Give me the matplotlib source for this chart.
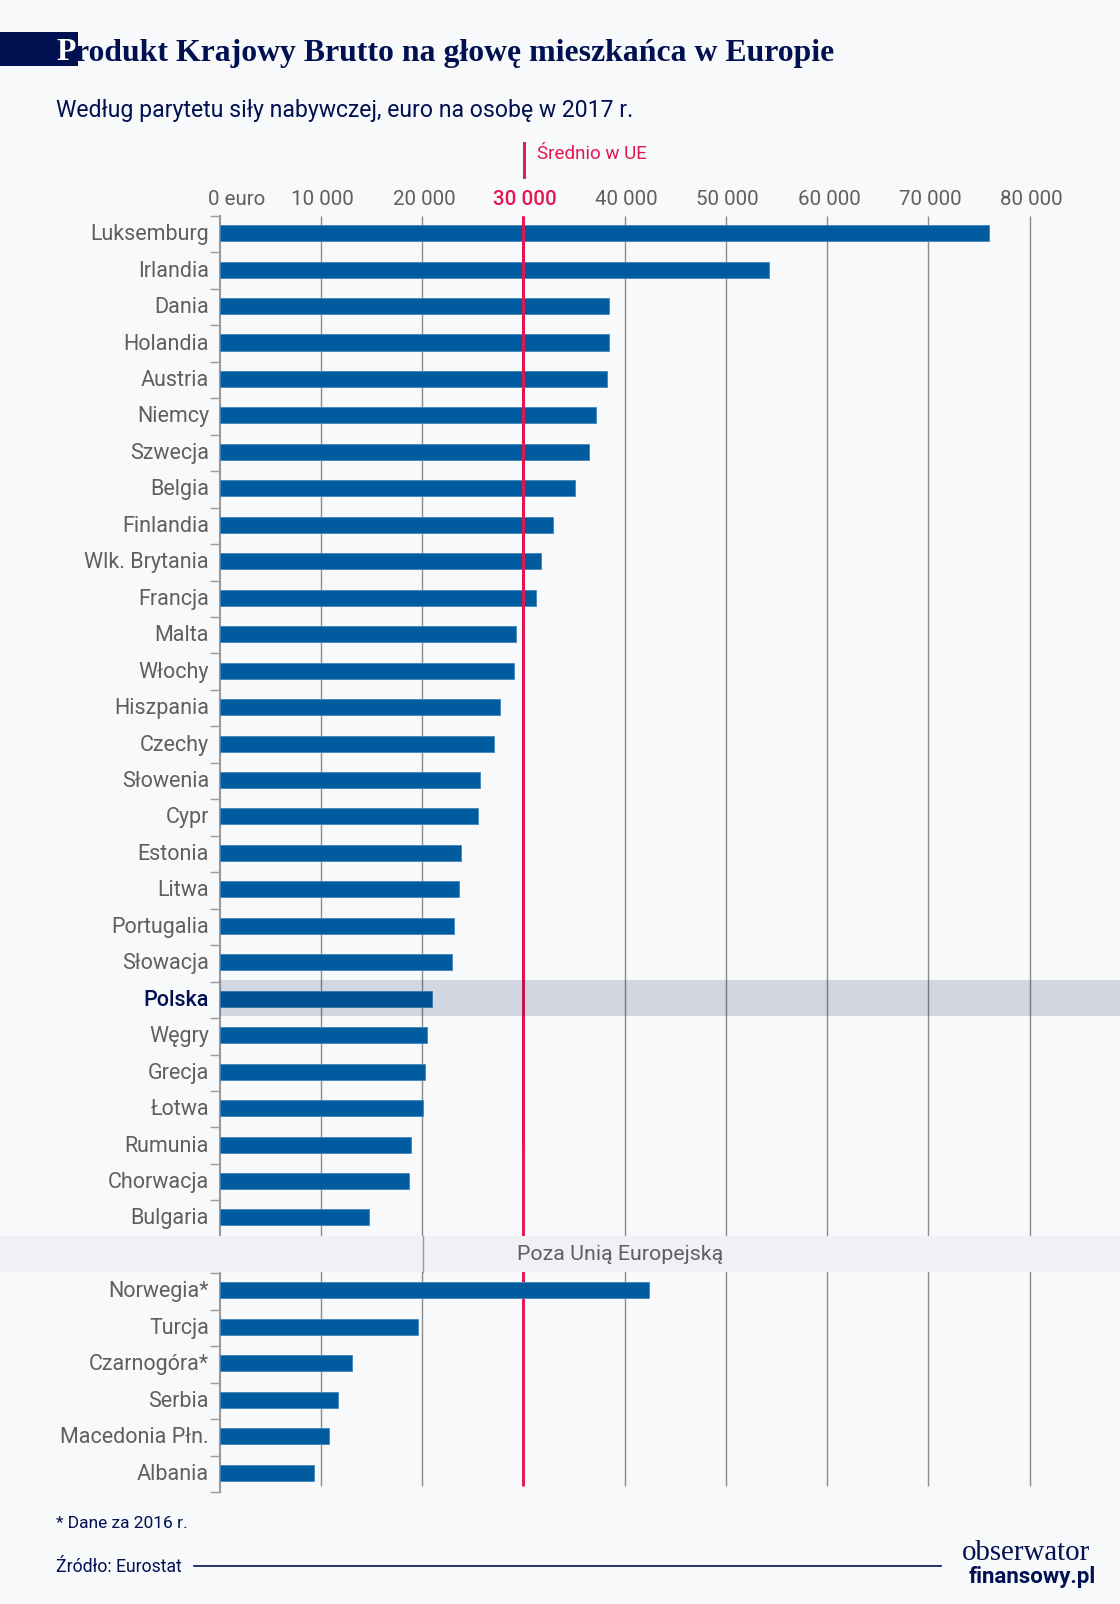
import matplotlib
matplotlib.use("Agg")
import matplotlib.pyplot as plt
from matplotlib.patches import Rectangle
from matplotlib.lines import Line2D
from matplotlib.transforms import ScaledTranslation

countries = ["Luksemburg", "Irlandia", "Dania", "Holandia", "Austria", "Niemcy", "Szwecja",
             "Belgia", "Finlandia", "Wlk. Brytania", "Francja", "Malta", "Włochy", "Hiszpania",
             "Czechy", "Słowenia", "Cypr", "Estonia", "Litwa", "Portugalia", "Słowacja",
             "Polska", "Węgry", "Grecja", "Łotwa", "Rumunia", "Chorwacja", "Bulgaria"]
values = [76000, 54300, 38500, 38500, 38300, 37200, 36500,
          35100, 32900, 31800, 31300, 29300, 29100, 27700,
          27100, 25700, 25500, 23900, 23700, 23200, 23000,
          21000, 20500, 20300, 20100, 18900, 18700, 14800]
other_countries = ["Norwegia*", "Turcja", "Czarnogóra*", "Serbia", "Macedonia Płn.", "Albania"]
other_values = [42400, 19600, 13100, 11700, 10800, 9300]
x_ticks = [0, 10000, 20000, 30000, 40000, 50000, 60000, 70000, 80000]
x_labels = ["0 euro", "10 000", "20 000", "30 000", "40 000", "50 000", "60 000", "70 000", "80 000"]
eu_avg = 30000

W, H = 1120, 1604
BG = "#f7f9fb"
NAVY = "#001050"
BLUE = "#005c9f"
RED = "#e4164f"
GREY = "#5f5f5f"
NARROW = ["Roboto", "DejaVu Sans"]
SERIF = ["Liberation Serif", "DejaVu Serif"]


def fx(px):
    return px / W


def fy(px):
    return 1 - px / H


fig = plt.figure(figsize=(W / 100, H / 100), dpi=100, facecolor=BG)

# plot area runs to the right edge so the Polska band can too
ax_left, ax_top, ax_bottom = 219.5, 216, 1492
ax = fig.add_axes([fx(ax_left), fy(ax_bottom), fx(W - ax_left), (ax_bottom - ax_top) / H])
ax.set_facecolor("none")
ax.set_xlim(0, (W - ax_left) / 101.25 * 10000)
ax.set_ylim(34.53, -0.47)

slot_labels = countries + [""] + other_countries
slot_values = values + [0] + other_values
ys = list(range(len(slot_labels)))
poza = len(countries)
polska = countries.index("Polska")

ax.barh(ys, slot_values, height=0.44, color=BLUE, edgecolor="#3f86ba", linewidth=0.6, zorder=3)

grid_bottom = 34.37
ax.vlines([t for t in x_ticks[1:] if t != eu_avg], -0.47, grid_bottom, color="#8c8c8c", lw=1, zorder=1)
ax.vlines(eu_avg, -0.47, grid_bottom, color=RED, lw=2.1, zorder=2)
ax.vlines(eu_avg, -0.47, 25, color=RED, lw=2.1, zorder=4)

# bands
ax.add_patch(Rectangle((0, polska - 0.52), 1, 1, transform=ax.get_yaxis_transform(),
                       facecolor=NAVY, alpha=0.15, lw=0, zorder=5))
fig.add_artist(Rectangle((0, fy(1272)), 1, 36 / H, transform=fig.transFigure,
                         facecolor="#eff1f5", lw=0, zorder=6))
fig.add_artist(Line2D([fx(422.5)] * 2, [fy(1236), fy(1272)], color="#9a9a9a", lw=1, zorder=7))

for s in ["top", "right", "bottom"]:
    ax.spines[s].set_visible(False)
ax.spines["left"].set_color("#9a9a9a")
ax.spines["left"].set_linewidth(1.5)

ax.set_yticks(ys)
ax.set_yticklabels(slot_labels, fontsize=15.5, color=GREY, family=NARROW)
ax.tick_params(axis="y", length=0, pad=7.5)
ax.set_yticks([y - 0.47 for y in range(len(ys) + 1)], minor=True)
ax.tick_params(axis="y", which="minor", length=7, width=1, color="#9a9a9a")
ax.get_yticklabels()[polska].set_color(NAVY)
ax.get_yticklabels()[polska].set_fontweight("medium")
up = ScaledTranslation(0, 1 / 100, fig.dpi_scale_trans)
for lab in ax.get_yticklabels():
    lab.set_transform(lab.get_transform() + up)

ax.xaxis.tick_top()
ax.set_xticks(x_ticks)
ax.set_xticklabels(x_labels, fontsize=14.8, color=GREY, family=NARROW)
ax.tick_params(axis="x", length=0, pad=5)
shift = ScaledTranslation(2 / 100, 0, fig.dpi_scale_trans)
for lab, t in zip(ax.get_xticklabels(), x_ticks):
    lab.set_transform(lab.get_transform() + shift)
    if t == 0:
        lab.set_ha("left")
        lab.set_transform(lab.get_transform() + ScaledTranslation(-13 / 100, 0, fig.dpi_scale_trans))
    if t == eu_avg:
        lab.set_color(RED)
        lab.set_fontweight("medium")

# title block
fig.add_artist(Rectangle((0, fy(66)), fx(78), 34 / H, transform=fig.transFigure,
                         facecolor=NAVY, lw=0, zorder=1))
first = fig.text(fx(56), fy(53), "P", fontsize=22.9, fontweight="bold", family=SERIF,
                 color="white", va="center", zorder=2)
fig.canvas.draw()
x_end = first.get_window_extent().x1
fig.text(x_end / W, fy(53), "rodukt Krajowy Brutto na głowę mieszkańca w Europie", fontsize=22.9,
         fontweight="bold", family=SERIF, color=NAVY, va="center", zorder=2)
fig.text(fx(56), fy(110), "Według parytetu siły nabywczej, euro na osobę w 2017 r.",
         fontsize=16.6, family=NARROW, color=NAVY, va="center")

# EU average marker above the axis
fig.add_artist(Line2D([fx(523.5)] * 2, [fy(143), fy(177)], color=RED, lw=2.1))
fig.text(fx(537), fy(154), "Średnio w UE", fontsize=13.5, family=NARROW, color=RED, va="center")

fig.text(fx(620), fy(1255), "Poza Unią Europejską", fontsize=15.4, family=NARROW, color=GREY,
         ha="center", va="center", zorder=8)

# footer
fig.text(fx(56), fy(1523), "* Dane za 2016 r.", fontsize=12.5, family=NARROW, color=NAVY, va="center")
fig.text(fx(56), fy(1566.5), "Źródło: Eurostat", fontsize=12.7, family=NARROW, color=NAVY, va="center")
fig.add_artist(Line2D([fx(194), fx(941)], [fy(1565.5)] * 2, color=NAVY, lw=1.2))
fig.text(fx(1090), fy(1553), "obserwator", fontsize=20.8, family=SERIF, color=NAVY, ha="right", va="center")
fig.text(fx(1096), fy(1577), "finansowy.pl", fontsize=16, fontweight="bold", family=NARROW,
         color=NAVY, ha="right", va="center")

fig.savefig("out.png", dpi=100, facecolor=BG)
